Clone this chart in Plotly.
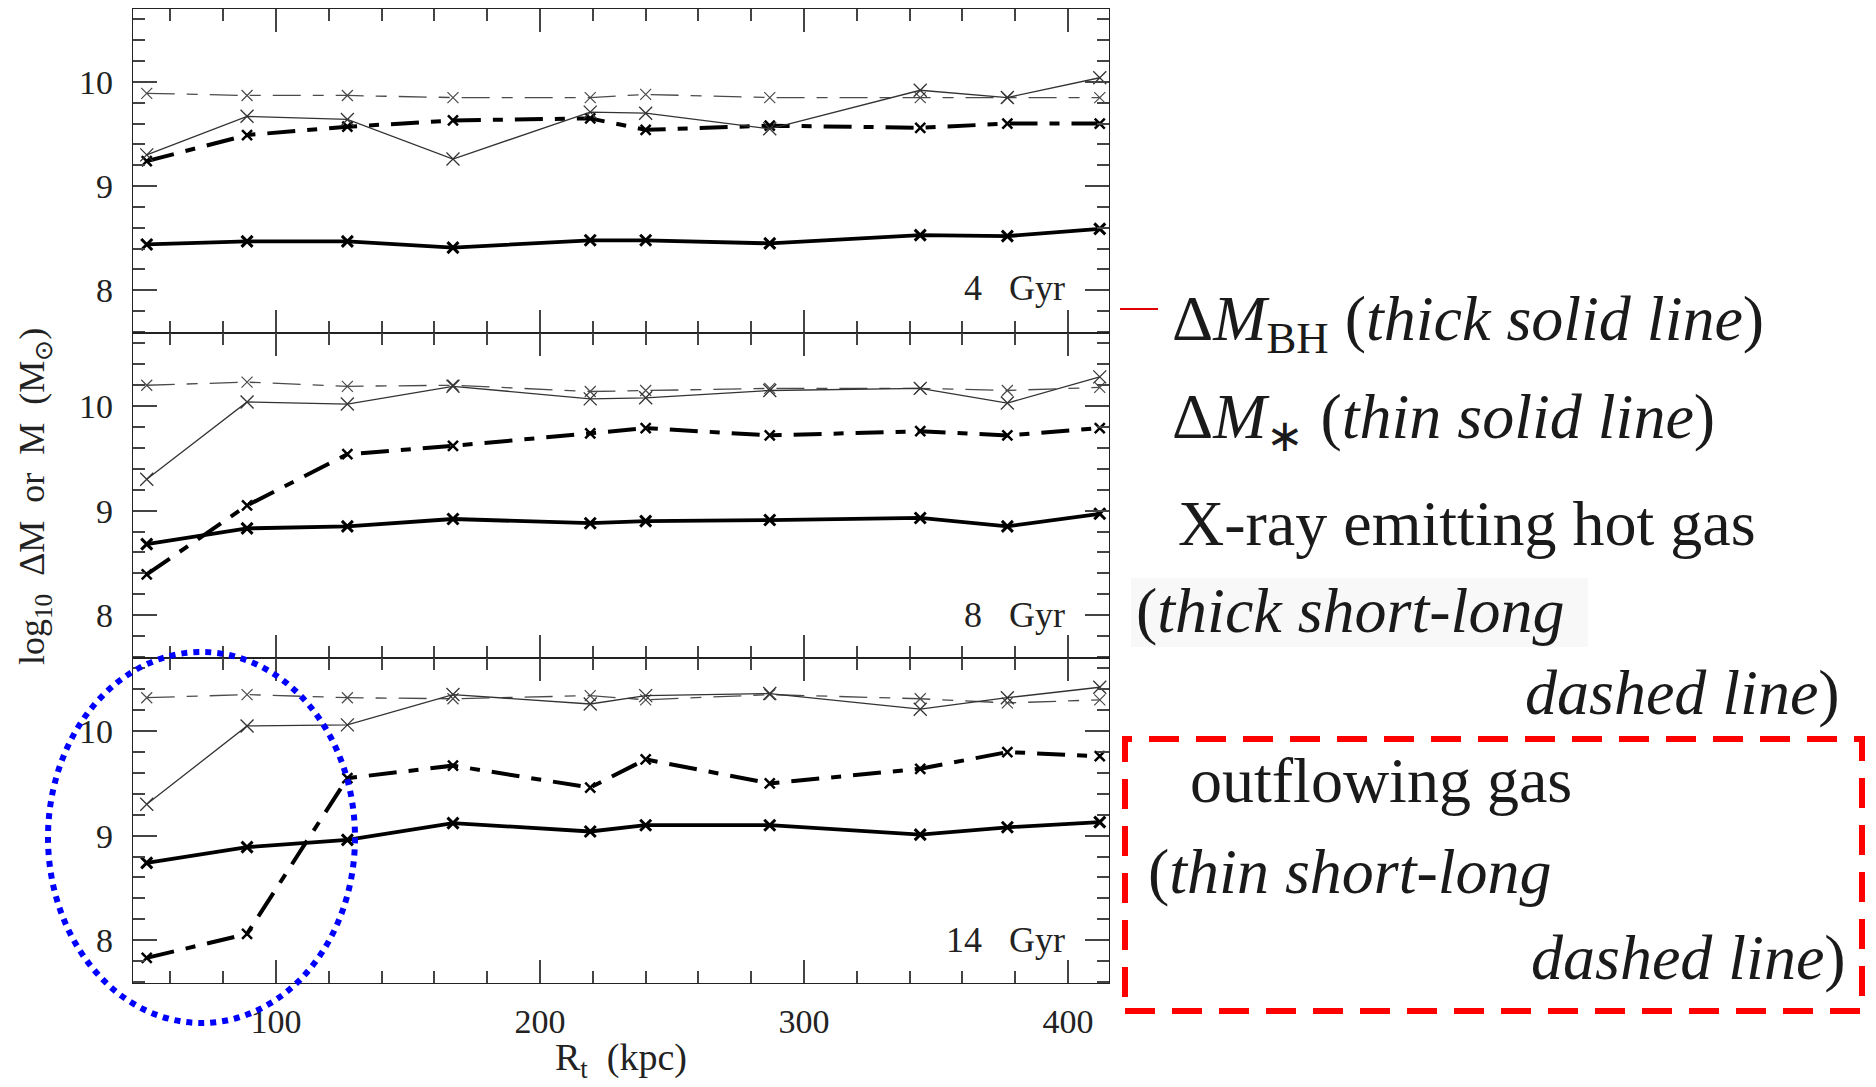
import plotly.graph_objects as go

# ---------------- data ----------------
R_T_KPC = [51, 89, 127, 167, 219, 240, 287, 344, 377, 412]
PANEL_LABELS = ["4 Gyr", "8 Gyr", "14 Gyr"]

# log10 Delta M_BH (thick solid)
BH_4 = [8.44, 8.47, 8.47, 8.41, 8.48, 8.48, 8.45, 8.53, 8.52, 8.59]
BH_8 = [8.68, 8.83, 8.85, 8.92, 8.88, 8.90, 8.91, 8.93, 8.85, 8.97]
BH_14 = [8.74, 8.89, 8.96, 9.12, 9.04, 9.10, 9.10, 9.01, 9.08, 9.13]

# log10 Delta M_* (thin solid)
STAR_4 = [9.30, 9.67, 9.64, 9.26, 9.71, 9.70, 9.55, 9.92, 9.85, 10.04]
STAR_8 = [9.30, 10.04, 10.02, 10.19, 10.07, 10.08, 10.15, 10.17, 10.03, 10.28]
STAR_14 = [9.30, 10.05, 10.06, 10.35, 10.26, 10.34, 10.36, 10.21, 10.32, 10.42]

# X-ray emitting hot gas (thick short-long dashed)
HOT_4 = [9.24, 9.49, 9.57, 9.63, 9.65, 9.54, 9.58, 9.56, 9.60, 9.60]
HOT_8 = [8.39, 9.05, 9.54, 9.62, 9.74, 9.79, 9.72, 9.76, 9.72, 9.79]
HOT_14 = [7.83, 8.06, 9.55, 9.67, 9.46, 9.73, 9.50, 9.64, 9.80, 9.76]

# outflowing gas (thin short-long dashed)
OUT_4 = [9.89, 9.87, 9.87, 9.85, 9.85, 9.88, 9.85, 9.85, 9.85, 9.85]
OUT_8 = [10.20, 10.23, 10.19, 10.20, 10.14, 10.15, 10.17, 10.17, 10.15, 10.18]
OUT_14 = [10.32, 10.35, 10.32, 10.31, 10.34, 10.30, 10.35, 10.31, 10.27, 10.30]

X_TICKS = [100, 200, 300, 400]
Y_TICKS = [8, 9, 10]

LEGEND_LINES = [
    "Δ<i>M</i><sub>BH</sub> (<i>thick solid line</i>)",
    "Δ<i>M</i><sub>∗</sub> (<i>thin solid line</i>)",
    "X-ray emitting hot gas",
    "(<i>thick short-long</i>",
    "<i>dashed line</i>)",
    "outflowing gas",
    "(<i>thin short-long</i>",
    "<i>dashed line</i>)",
]

# ---------------- geometry helpers ----------------
W, H = 1876, 1087


def px(x):
    return x / W


def py(y):
    return 1 - y / H


X_DOM = [px(133), px(1109)]
Y_DOMS = [[py(333), py(9)], [py(658), py(333)], [py(983), py(658)]]

SERIF = "Liberation Serif"
NB = "\u00a0"

fig = go.Figure()

panels = [
    (BH_4, STAR_4, HOT_4, OUT_4),
    (BH_8, STAR_8, HOT_8, OUT_8),
    (BH_14, STAR_14, HOT_14, OUT_14),
]

for i, (bh, st, hot, out) in enumerate(panels):
    xa = "x" if i == 0 else f"x{i+1}"
    ya = "y" if i == 0 else f"y{i+1}"
    fig.add_trace(go.Scatter(
        x=R_T_KPC, y=out, xaxis=xa, yaxis=ya, mode="lines+markers",
        line=dict(color="#4a4a4a", width=1.3, dash="28px,12px,11px,12px"),
        marker=dict(symbol="x-thin-open", size=11, color="#4a4a4a",
                    line=dict(width=1.2, color="#4a4a4a")),
        name="outflowing gas", showlegend=False))
    fig.add_trace(go.Scatter(
        x=R_T_KPC, y=hot, xaxis=xa, yaxis=ya, mode="lines+markers",
        line=dict(color="black", width=4, dash="28px,12px,10px,12px"),
        marker=dict(symbol="x-thin-open", size=10, color="black",
                    line=dict(width=2.5, color="black")),
        name="X-ray emitting hot gas", showlegend=False))
    fig.add_trace(go.Scatter(
        x=R_T_KPC, y=st, xaxis=xa, yaxis=ya, mode="lines+markers",
        line=dict(color="#333333", width=1.3),
        marker=dict(symbol="x-thin-open", size=13, color="#333333",
                    line=dict(width=1.3, color="#333333")),
        name="ΔM*", showlegend=False))
    fig.add_trace(go.Scatter(
        x=R_T_KPC, y=bh, xaxis=xa, yaxis=ya, mode="lines+markers",
        line=dict(color="black", width=3.8),
        marker=dict(symbol="x-thin-open", size=11, color="black",
                    line=dict(width=3, color="black")),
        name="ΔM_BH", showlegend=False))

tick_font = dict(family=SERIF, size=34, color="#222222")

layout = dict(
    width=W, height=H,
    margin=dict(l=0, r=0, t=0, b=0),
    paper_bgcolor="white", plot_bgcolor="white",
    showlegend=False,
)

for i in range(3):
    xkey = "xaxis" if i == 0 else f"xaxis{i+1}"
    ykey = "yaxis" if i == 0 else f"yaxis{i+1}"
    ya = "y" if i == 0 else f"y{i+1}"
    xa = "x" if i == 0 else f"x{i+1}"
    layout[xkey] = dict(
        domain=X_DOM, anchor=ya, range=[45.8, 415.5],
        tickvals=X_TICKS, ticktext=[str(v) for v in X_TICKS],
        showticklabels=(i == 2), tickfont=tick_font,
        ticks="inside", ticklen=23, tickwidth=1.5, tickcolor="#444444",
        minor=dict(ticks="inside", dtick=20, tick0=0, ticklen=12,
                   tickwidth=1.5, tickcolor="#444444"),
        showline=True, linecolor="#222222", linewidth=1.2, mirror="ticks",
        showgrid=False, zeroline=False, automargin=False,
        ticklabelstandoff=8,
    )
    layout[ykey] = dict(
        domain=Y_DOMS[i], anchor=xa, range=[7.59, 10.70],
        tickvals=Y_TICKS, ticktext=[str(v) for v in Y_TICKS],
        tickfont=tick_font,
        ticks="inside", ticklen=24, tickwidth=1.5, tickcolor="#444444",
        minor=dict(ticks="inside", dtick=0.2, tick0=0, ticklen=12,
                   tickwidth=1.5, tickcolor="#444444"),
        showline=True, linecolor="#222222", linewidth=1.2, mirror="ticks",
        showgrid=False, zeroline=False, automargin=False,
        ticklabelstandoff=12,
    )

fig.update_layout(**layout)

annotations = []
# panel labels
label_y = [288, 615, 940]
for lab, yy in zip(PANEL_LABELS, label_y):
    annotations.append(dict(
        text=lab.replace(" ", NB * 3), xref="paper", yref="paper",
        x=px(1067), y=py(yy), xanchor="right", yanchor="middle",
        showarrow=False, font=dict(family=SERIF, size=36, color="#222222")))

# axis titles
annotations.append(dict(
    text=f"R<sub>t</sub>{NB*2}(kpc)", xref="paper", yref="paper",
    x=px(621), y=py(1060), xanchor="center", yanchor="middle",
    showarrow=False, font=dict(family=SERIF, size=38, color="#222222")))
annotations.append(dict(
    text=f"log<sub>10</sub>{NB*2}ΔM{NB*2}or{NB*2}M{NB*2}(M<sub>⊙</sub>)",
    xref="paper", yref="paper", textangle=-90,
    x=px(34), y=py(497), xanchor="center", yanchor="middle",
    showarrow=False, font=dict(family=SERIF, size=36, color="#222222")))

# legend text
leg_pos = [
    (1170, 323, "left"),
    (1170, 421, "left"),
    (1176, 523, "left"),
    (1134, 610, "left"),
    (1842, 692, "right"),
    (1188, 780, "left"),
    (1146, 871, "left"),
    (1848, 957, "right"),
]
for txt, (xx, yy, anc) in zip(LEGEND_LINES, leg_pos):
    annotations.append(dict(
        text=txt, xref="paper", yref="paper", x=px(xx), y=py(yy),
        xanchor=anc, yanchor="middle", showarrow=False,
        font=dict(family=SERIF, size=64, color="#1a1a1a")))

fig.update_layout(annotations=annotations)

shapes = [
    # faint highlight behind "(thick short-long"
    dict(type="rect", xref="paper", yref="paper", layer="below",
         x0=px(1131), x1=px(1588), y0=py(647), y1=py(578),
         fillcolor="#f8f8f8", line=dict(width=0)),
    # short red line
    dict(type="line", xref="paper", yref="paper",
         x0=px(1120), x1=px(1158), y0=py(309), y1=py(309),
         line=dict(color="#e00000", width=2)),
    # red dashed box
    dict(type="rect", xref="paper", yref="paper",
         x0=px(1125), x1=px(1862), y0=py(1011), y1=py(739),
         line=dict(color="#ff0000", width=6, dash="30px,17px")),
    # blue dotted ellipse
    dict(type="circle", xref="paper", yref="paper",
         x0=px(48), x1=px(355), y0=py(1023), y1=py(652),
         line=dict(color="#0000ff", width=6, dash="dot")),
]
fig.update_layout(shapes=shapes)

fig.write_html("out.html")
